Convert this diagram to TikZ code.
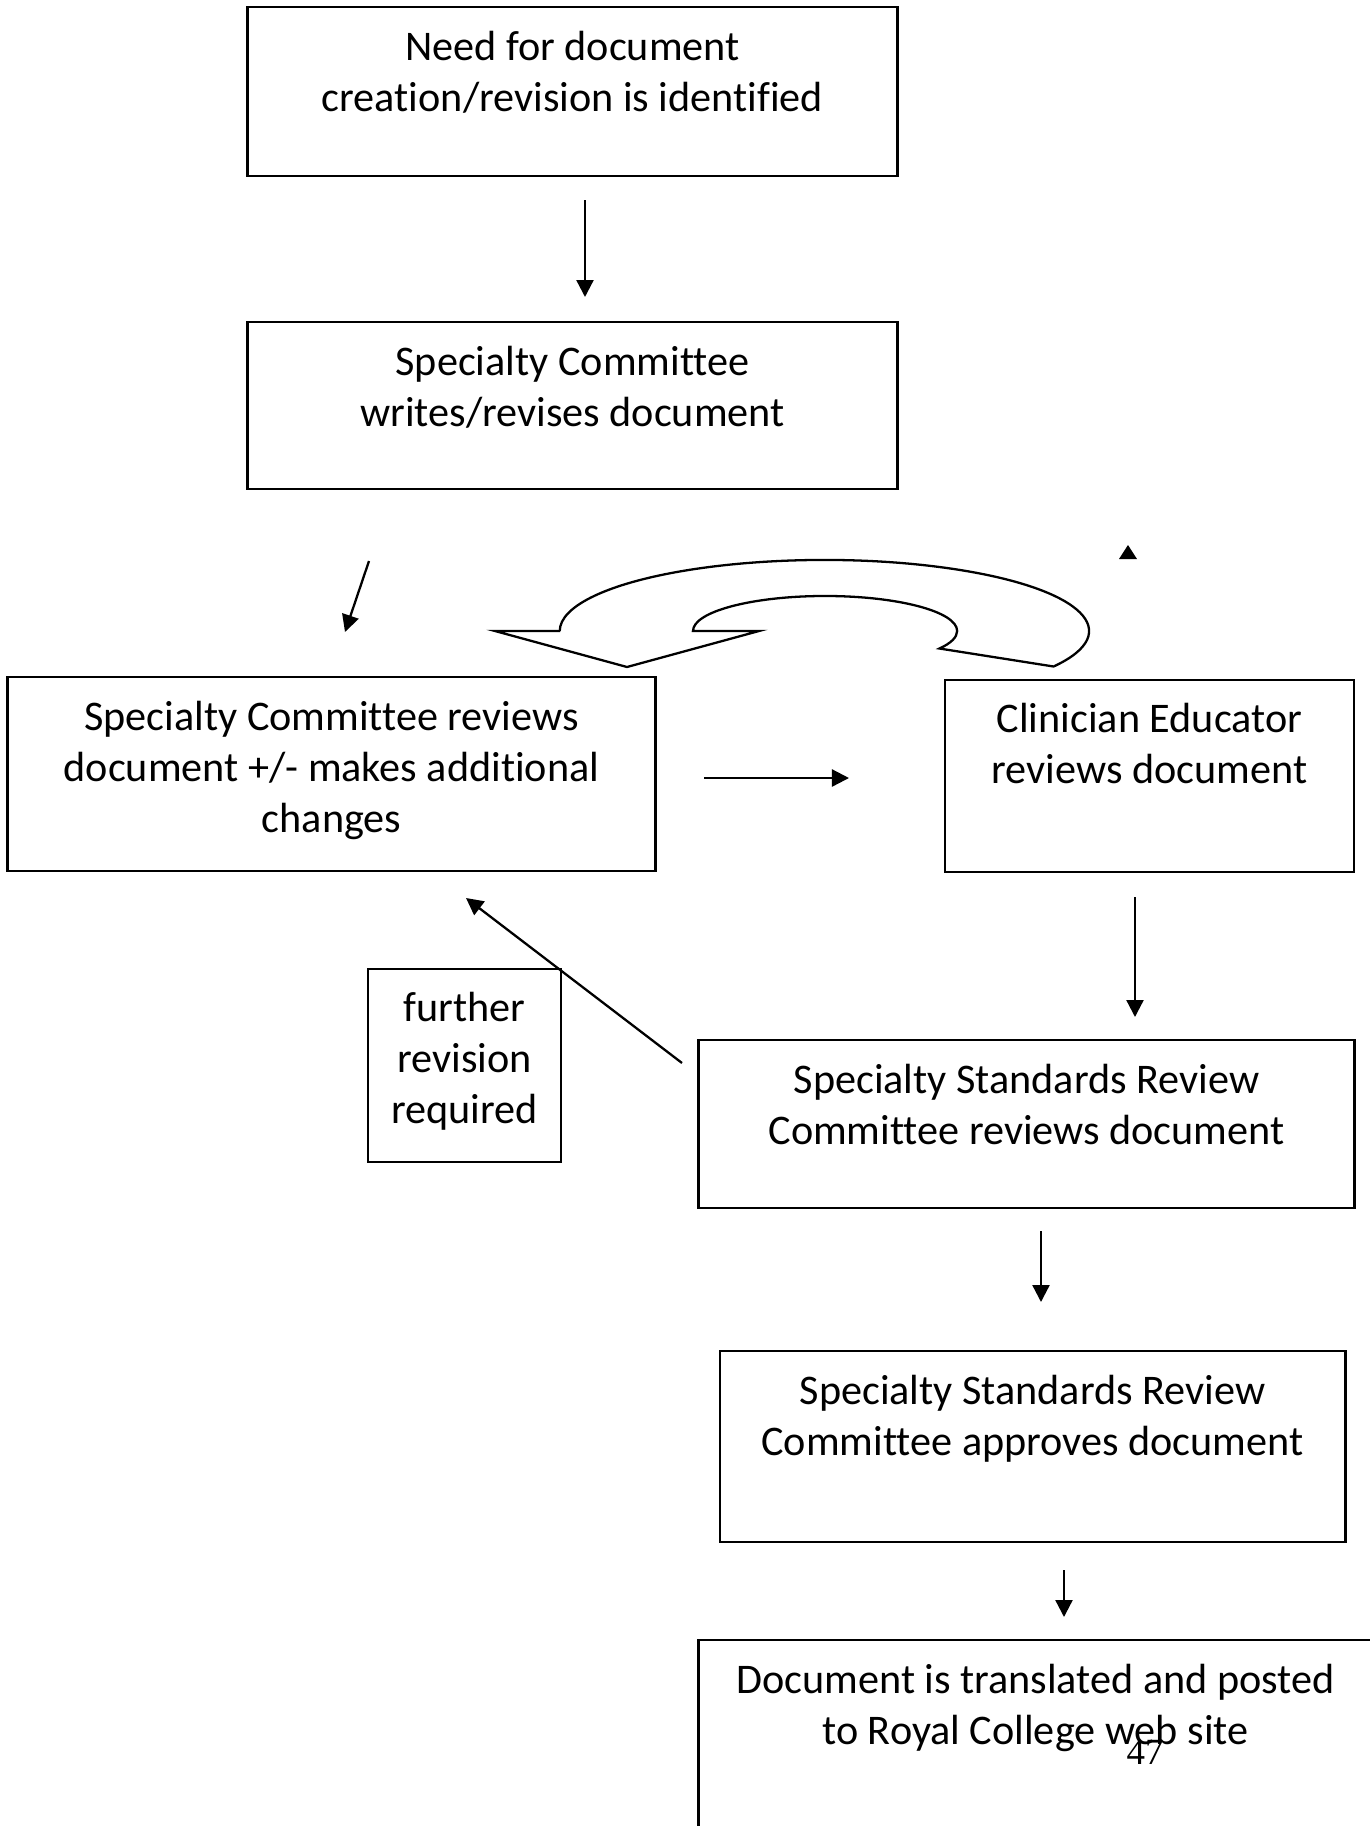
\documentclass[tikz,border=0pt]{standalone}
\usepackage{fontspec}
\setmainfont{Carlito}[Ligatures=NoCommon]
\newfontfamily\pagenumfont{Liberation Serif}
\usetikzlibrary{arrows.meta}

\begin{document}
\begin{tikzpicture}[x=0.01cm, y=-0.01cm,
  box/.style={draw, line width=0.75pt, rectangle, inner sep=0pt},
  label/.style={anchor=north, inner sep=0pt, align=center,
    font=\fontsize{12pt}{14.6pt}\selectfont},
  flow/.style={line width=0.65pt, -{Triangle[length=0.17cm, width=0.17cm]}}]

  % page area
  \useasboundingbox (0,0) rectangle (1370,1826);
  \clip (0,0) rectangle (1370,1826);
  \fill[white] (0,0) rectangle (1370,1826);

  % process boxes
  \node[box, minimum width=6.49cm, minimum height=1.69cm] (b1) at (572.5,91.5) {};
  \node[box, minimum width=6.49cm, minimum height=1.67cm] (b2) at (572.5,405.5) {};
  \node[box, minimum width=6.47cm, minimum height=1.94cm] (b3) at (331.5,774) {};
  \node[box, minimum width=4.09cm, minimum height=1.92cm] (b4) at (1149.5,776) {};
  \node[box, minimum width=1.93cm, minimum height=1.93cm] (b5) at (464.5,1065.5) {};
  \node[box, minimum width=6.55cm, minimum height=1.68cm] (b6) at (1026.5,1124) {};
  \node[box, minimum width=6.25cm, minimum height=1.91cm] (b7) at (1032.5,1446.5) {};
  \node[box, minimum width=6.73cm, minimum height=2.60cm] (b8) at (1035.5,1770) {};

  % box texts
  \node[label] (t1) at ([yshift=-0.18cm]b1.north) {\strut Need for document\\creation/revision is identified};
  \node[label] (t2) at ([yshift=-0.18cm]b2.north) {\strut Specialty Committee\\writes/revises document};
  \node[label] (t3) at ([yshift=-0.18cm]b3.north) {\strut Specialty Committee reviews\\document +/- makes additional\\changes};
  \node[label] (t4) at ([yshift=-0.17cm]b4.north) {\strut Clinician Educator\\reviews document};
  \node[label] (t5) at ([yshift=-0.17cm]b5.north) {\strut further\\revision\\required};
  \node[label] (t6) at ([yshift=-0.18cm]b6.north) {\strut Specialty Standards Review\\Committee reviews document};
  \node[label] (t7) at ([yshift=-0.18cm]b7.north) {\strut Specialty Standards Review\\Committee approves document};
  \node[label] (t8) at ([yshift=-0.18cm]b8.north) {\strut Document is translated and posted\\to Royal College web site};

  % page number
  \node[anchor=base, inner sep=0pt, font=\pagenumfont\fontsize{10.5pt}{12pt}\selectfont] (pg) at (1145,1764) {47};

  % connector end points
  \coordinate (a1s) at (585,200);   \coordinate (a1e) at (585,297);
  \coordinate (a2s) at (369,561);   \coordinate (a2e) at (345,632);
  \coordinate (a3s) at (704,778);   \coordinate (a3e) at (849,778);
  \coordinate (a4s) at (1135,897);  \coordinate (a4e) at (1135,1017);
  \coordinate (a5s) at (682,1063);  \coordinate (a5e) at (466,898);
  \coordinate (a6s) at (1041,1231); \coordinate (a6e) at (1041,1302);
  \coordinate (a7s) at (1064,1570); \coordinate (a7e) at (1064,1617);

  % connectors
  \draw[flow] (a1s) -- (a1e);
  \draw[flow] (a2s) -- (a2e);
  \draw[flow] (a3s) -- (a3e);
  \draw[flow] (a4s) -- (a4e);
  \draw[flow] (a5s) -- (a5e);
  \draw[flow] (a6s) -- (a6e);
  \draw[flow] (a7s) -- (a7e);

  % lone arrow head
  \fill (1119,559) -- (1137,559) -- (1128,545) -- cycle;

  % curved return arrow (outline)
  \draw[line width=0.65pt, line join=miter]
    (560,631) -- (495,631) -- (627,667) -- (759,631) -- (693,631)
    arc[start angle=180, end angle=-30, x radius=1.32cm, y radius=0.35cm]
    -- (1053.6,666.5)
    arc[start angle=-30, end angle=180, x radius=2.645cm, y radius=0.71cm]
    -- cycle;
\end{tikzpicture}
\end{document}
